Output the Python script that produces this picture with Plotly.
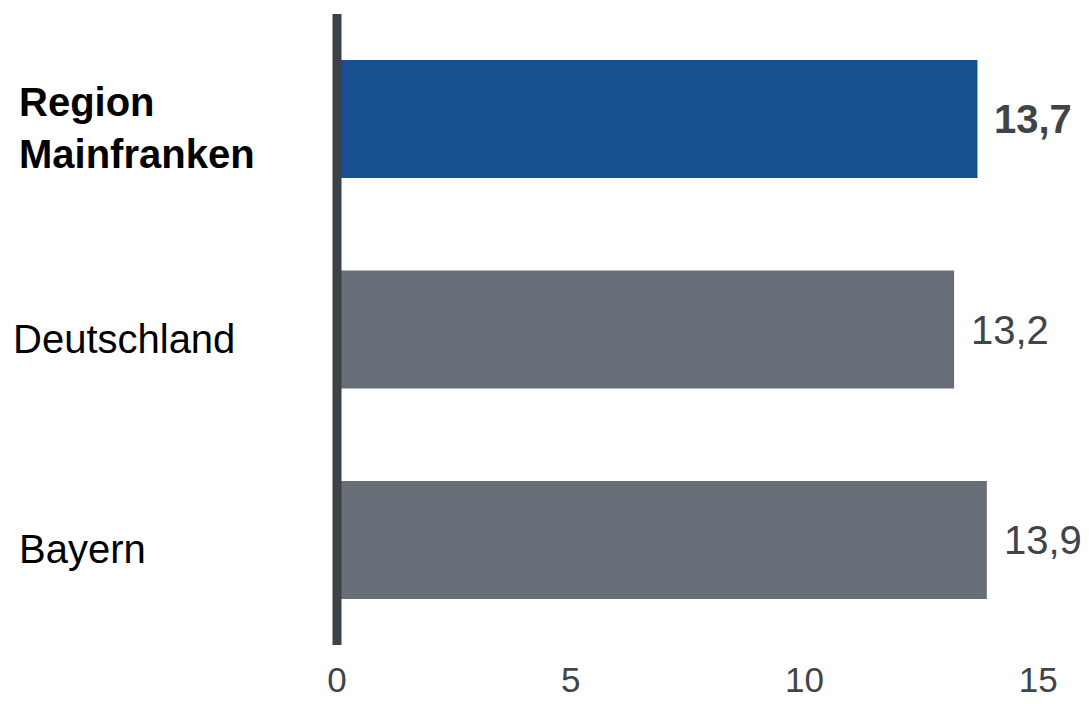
import plotly.graph_objects as go

categories = ["Region Mainfranken", "Deutschland", "Bayern"]
values = [13.7, 13.2, 13.9]
highlight = [True, False, False]
tick_values = [0, 5, 10, 15]
tick_labels = ["0", "5", "10", "15"]

BLUE = "#17508e"
GRAY = "#676e77"
AXIS = "#3c4245"
VALTXT = "#3f4448"
FONT = "Liberation Sans, Arial, sans-serif"

colors = [BLUE if h else GRAY for h in highlight]

# page has an 8px body margin; figure is sized to fill the rest of the window
W, H = 1081, 696
L, R, T, B = 329, 4, 6, 59
plot_w = W - L - R

fig = go.Figure()
fig.add_trace(go.Bar(
    x=values,
    y=categories,
    orientation="h",
    marker=dict(color=colors, line=dict(width=0)),
    width=0.56,
    hoverinfo="skip",
))

# vertical axis line at x=0 (paper refs so it is not clipped)
fig.add_shape(type="line", xref="paper", yref="paper", x0=0, x1=0, y0=0, y1=1,
              line=dict(color=AXIS, width=9), layer="above")

label_xshift = {"Deutschland": -6}

annotations = []
for cat, val, hl in zip(categories, values, highlight):
    txt = f"{val:.1f}".replace(".", ",")
    if hl:
        txt = f"<b>{txt}</b>"
    annotations.append(dict(
        x=val, y=cat, xref="x", yref="y", text=txt, showarrow=False,
        xanchor="left", yanchor="middle", xshift=15,
        font=dict(family=FONT, size=40, color=VALTXT),
    ))
    label = cat.replace(" ", "<br>") if hl else cat
    if hl:
        label = f"<b>{label}</b>"
    annotations.append(dict(
        x=(9 - L) / plot_w, y=cat, xref="paper", yref="y", text=label,
        showarrow=False, xanchor="left", yanchor="middle", align="left",
        xshift=label_xshift.get(cat, 0), yshift=-9,
        font=dict(family=FONT, size=40, color="#000000"),
    ))

fig.update_layout(
    width=W, height=H,
    margin=dict(l=L, r=R, t=T, b=B, autoexpand=False),
    paper_bgcolor="white", plot_bgcolor="white",
    showlegend=False,
    annotations=annotations,
    xaxis=dict(range=[0, 16], tickvals=tick_values, ticktext=tick_labels,
               showgrid=False, zeroline=False, showline=False, ticks="",
               tickfont=dict(family=FONT, size=35, color=VALTXT),
               ticklabelstandoff=11, automargin=False, fixedrange=True),
    yaxis=dict(type="category", range=[2.499, -0.499], showticklabels=False,
               showgrid=False, zeroline=False, showline=False, ticks="",
               automargin=False, fixedrange=True),
)

fig.write_html("out.html")
